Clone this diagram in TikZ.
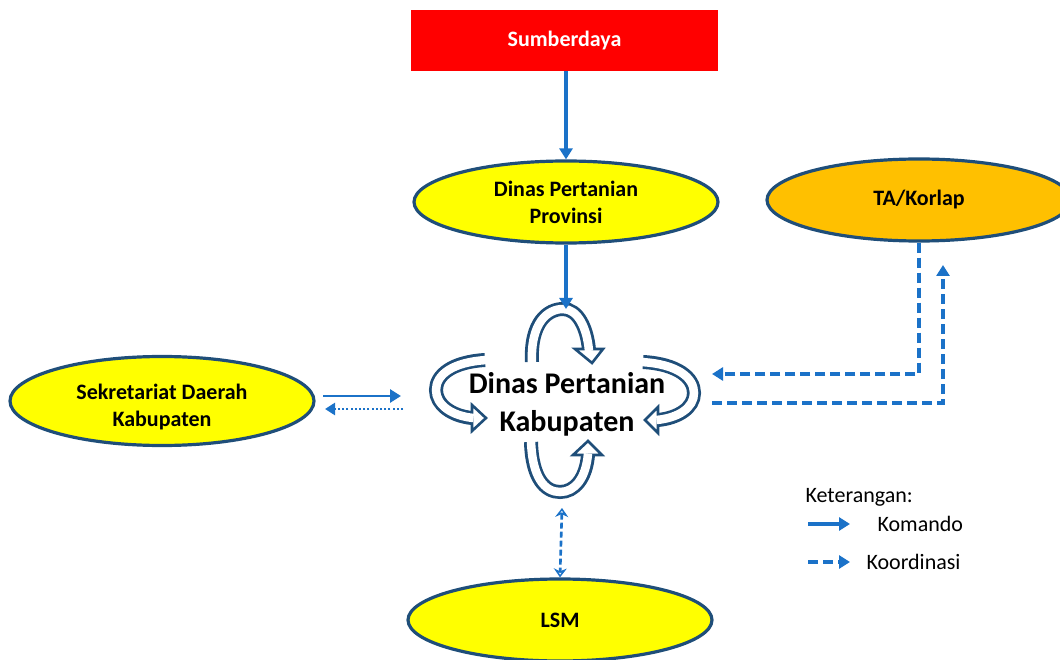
\documentclass[tikz,border=0pt]{standalone}
\usepackage{fontspec}
\setmainfont{Carlito}
\usetikzlibrary{shapes.geometric,arrows.meta,positioning}
\definecolor{rimblue}{HTML}{1F4E79}
\definecolor{linkblue}{HTML}{1B72C8}
\definecolor{boxred}{HTML}{FF0000}
\definecolor{ovalyellow}{HTML}{FFFF00}
\definecolor{ovalorange}{HTML}{FFC000}
\tikzset{
  unit/.style={ellipse, draw=rimblue, line width=3.2pt, minimum width=304pt, minimum height=82pt,
    inner sep=0pt, align=center, font=\fontsize{22}{27}\selectfont\bfseries},
  komando/.style={draw=linkblue, line width=3.6pt, -{Triangle[length=11pt,width=13pt]}},
  koordinasi/.style={komando, dash pattern=on 10pt off 5pt},
  band/.style={draw=rimblue, line width=14pt},
  bandin/.style={draw=white, line width=8.5pt},
  bandhead/.style={fill=white, draw=rimblue, line width=2.6pt, line join=miter},
}
\begin{document}
\begin{tikzpicture}[x=1pt,y=-1pt]
    \useasboundingbox (0,0) rectangle (1060,660);

    % Units
    \node[fill=boxred, minimum width=307pt, minimum height=61pt, inner sep=0pt,
      text=white, font=\fontsize{22}{26}\selectfont\bfseries] (sumber) at (564.5,40.5) {Sumberdaya};
    \node[unit, fill=ovalyellow] (prov) at (566,202) {Dinas Pertanian\\Provinsi};
    \node[unit, fill=ovalorange] (ta) at (919,200) {TA/Korlap};
    \node[unit, fill=ovalyellow, minimum height=89pt, minimum width=304pt] (sekda) at (162,401) {};
    \node[align=center, font=\fontsize{22}{27}\selectfont\bfseries] (sekdatext) at ([yshift=-6pt]sekda.center) {Sekretariat Daerah\\Kabupaten};
    \node[unit, fill=ovalyellow] (lsm) at (560,620) {LSM};
    \node[align=center, font=\fontsize{30}{38}\selectfont\bfseries] (kab) at (567,404) {Dinas Pertanian\\Kabupaten};

    % Circular arrows round the centre
    % top
    \draw[band] (532,362) .. controls (530,322) and (548,309) .. (563,309) .. controls (578,309) and (587,328) .. (589,350);
    \draw[bandhead] (575,349) -- (603,349) -- (592,363) -- cycle;
    \draw[bandin] (532,364) .. controls (530,322) and (548,309) .. (563,309) .. controls (578,309) and (587,328) .. (589,351);
    % left
    \draw[band] (485,360) .. controls (452,362) and (436,375) .. (436,390) .. controls (436,405) and (452,416) .. (472,418);
    \draw[bandhead] (472,405) -- (472,431) -- (486,418) -- cycle;
    \draw[bandin] (487,360) .. controls (452,362) and (436,375) .. (436,390) .. controls (436,405) and (452,416) .. (473.5,418);
    % right
    \draw[band] (643,362) .. controls (678,364) and (694,378) .. (694,393) .. controls (694,408) and (678,418) .. (658,420);
    \draw[bandhead] (658,407) -- (658,433) -- (645,420) -- cycle;
    \draw[bandin] (641,362) .. controls (678,364) and (694,378) .. (694,393) .. controls (694,408) and (678,418) .. (656.5,420);
    % bottom
    \draw[band] (531,442) .. controls (532,478) and (545,492) .. (560,492) .. controls (575,492) and (586,478) .. (588,455);
    \draw[bandhead] (573,455) -- (602,455) -- (588,441) -- cycle;
    \draw[bandin] (531,440) .. controls (532,478) and (545,492) .. (560,492) .. controls (575,492) and (586,478) .. (588,453.5);

    % Komando lines
    \draw[komando] (sumber.south -| prov.north) -- (prov.north);
    \draw[komando] (prov.south) -- (566,309);
    \coordinate (sekdaout) at (323,396);
    \coordinate (sekdain) at (401,396);
    \draw[komando, line width=2.8pt] (sekdaout) -- (sekdain);
    \draw[draw=linkblue, line width=2.8pt, dash pattern=on 2pt off 2.2pt, -{Triangle[length=10pt,width=12pt]}] (403,409) -- (325,409);

    % Koordinasi lines
    \coordinate (tain) at (712,374);
    \coordinate (taout) at (712,403);
    \draw[koordinasi, line width=4pt] (ta.south) |- (tain);
    \draw[koordinasi, line width=4pt] (taout) -| (943,265);
    \coordinate (lsmtop) at (562,508);
    \draw[draw=linkblue, line width=2.6pt, dash pattern=on 6pt off 3pt, {Stealth[length=9pt,width=13pt,open]}-{Stealth[length=9pt,width=13pt,open]}]
      (lsmtop) -- (lsm.north);

    % Legend
    \node[anchor=west, font=\fontsize{22}{26}\selectfont] (ket) at (802,497) {Keterangan:};
    \coordinate (k1) at (808,524);
    \coordinate (k2) at (808,562);
    \draw[komando, line width=4pt] (k1) -- ++(42,0);
    \draw[koordinasi, line width=4pt] (k2) -- ++(42,0);
    \node[anchor=west, font=\fontsize{22}{26}\selectfont] (kom) at (874,524) {Komando};
    \node[anchor=west, font=\fontsize{22}{26}\selectfont] (koor) at (863,562) {Koordinasi};
\end{tikzpicture}
\end{document}
